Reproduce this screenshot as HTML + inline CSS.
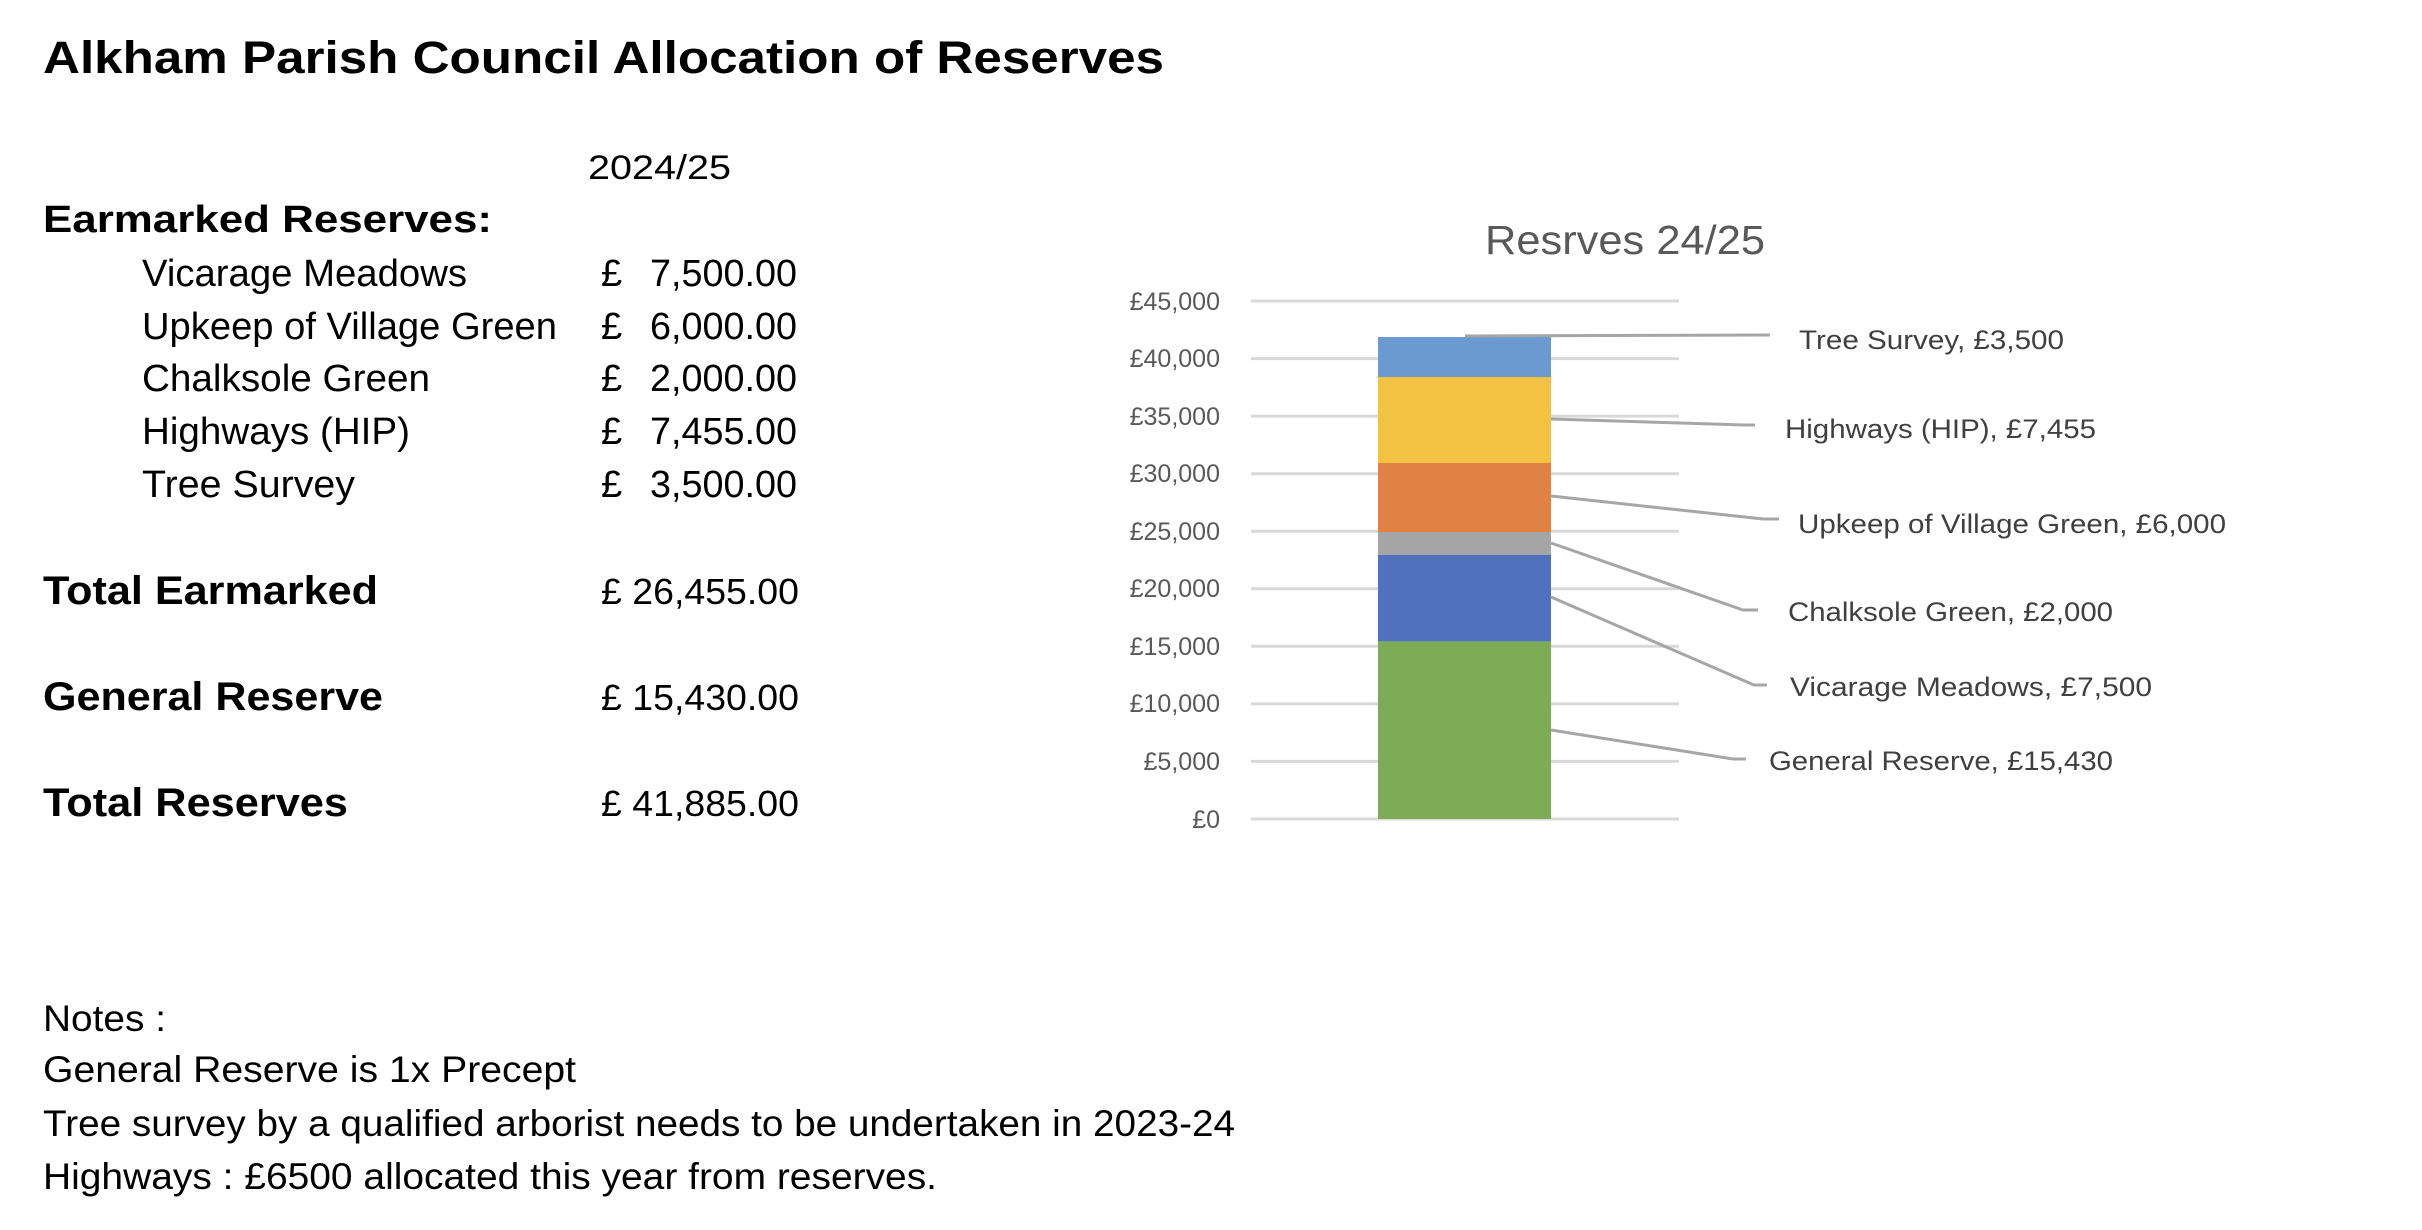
<!DOCTYPE html>
<html><head><meta charset="utf-8"><style>html,body{margin:0;padding:0;background:#fff}svg{display:block}</style></head>
<body>
<svg width="2422" height="1230" viewBox="0 0 2422 1230" xmlns="http://www.w3.org/2000/svg" font-family="Liberation Sans, sans-serif">
<rect width="2422" height="1230" fill="#fff"/>
<g fill="#000">
<text x="43" y="73" font-size="45" font-weight="bold" textLength="1121" lengthAdjust="spacingAndGlyphs">Alkham Parish Council Allocation of Reserves</text>
<text x="588" y="179" font-size="34" textLength="143" lengthAdjust="spacingAndGlyphs">2024/25</text>
<text x="43" y="232" font-size="38" font-weight="bold" textLength="449" lengthAdjust="spacingAndGlyphs">Earmarked Reserves:</text>
<g font-size="38">
<text x="142" y="286" textLength="325" lengthAdjust="spacingAndGlyphs">Vicarage Meadows</text>
<text x="142" y="339" textLength="415" lengthAdjust="spacingAndGlyphs">Upkeep of Village Green</text>
<text x="142" y="391" textLength="288" lengthAdjust="spacingAndGlyphs">Chalksole Green</text>
<text x="142" y="444" textLength="268" lengthAdjust="spacingAndGlyphs">Highways (HIP)</text>
<text x="142" y="497" textLength="213" lengthAdjust="spacingAndGlyphs">Tree Survey</text>
<text x="601" y="286">£</text><text x="650" y="286" textLength="147" lengthAdjust="spacingAndGlyphs">7,500.00</text>
<text x="601" y="339">£</text><text x="650" y="339" textLength="147" lengthAdjust="spacingAndGlyphs">6,000.00</text>
<text x="601" y="391">£</text><text x="650" y="391" textLength="147" lengthAdjust="spacingAndGlyphs">2,000.00</text>
<text x="601" y="444">£</text><text x="650" y="444" textLength="147" lengthAdjust="spacingAndGlyphs">7,455.00</text>
<text x="601" y="497">£</text><text x="650" y="497" textLength="147" lengthAdjust="spacingAndGlyphs">3,500.00</text>
</g>
<g font-size="40" font-weight="bold">
<text x="43" y="604" textLength="335" lengthAdjust="spacingAndGlyphs">Total Earmarked</text>
<text x="43" y="710" textLength="340" lengthAdjust="spacingAndGlyphs">General Reserve</text>
<text x="43" y="816" textLength="305" lengthAdjust="spacingAndGlyphs">Total Reserves</text>
</g>
<g font-size="36">
<text x="601" y="604" textLength="198" lengthAdjust="spacingAndGlyphs">£ 26,455.00</text>
<text x="601" y="710" textLength="198" lengthAdjust="spacingAndGlyphs">£ 15,430.00</text>
<text x="601" y="816" textLength="198" lengthAdjust="spacingAndGlyphs">£ 41,885.00</text>
</g>
<g font-size="37">
<text x="43" y="1031" textLength="123" lengthAdjust="spacingAndGlyphs">Notes :</text>
<text x="43" y="1082" textLength="533" lengthAdjust="spacingAndGlyphs">General Reserve is 1x Precept</text>
<text x="43" y="1136" textLength="1192" lengthAdjust="spacingAndGlyphs">Tree survey by a qualified arborist needs to be undertaken in 2023-24</text>
<text x="43" y="1189" textLength="894" lengthAdjust="spacingAndGlyphs">Highways : £6500 allocated this year from reserves.</text>
</g>
</g>
<!-- chart -->
<text x="1485" y="254" font-size="41" fill="#595959" textLength="280" lengthAdjust="spacingAndGlyphs">Resrves 24/25</text>
<g stroke="#d9d9d9" stroke-width="3">
<line x1="1251" y1="301" x2="1679" y2="301"/>
<line x1="1251" y1="358.6" x2="1679" y2="358.6"/>
<line x1="1251" y1="416.1" x2="1679" y2="416.1"/>
<line x1="1251" y1="473.7" x2="1679" y2="473.7"/>
<line x1="1251" y1="531.2" x2="1679" y2="531.2"/>
<line x1="1251" y1="588.8" x2="1679" y2="588.8"/>
<line x1="1251" y1="646.3" x2="1679" y2="646.3"/>
<line x1="1251" y1="703.9" x2="1679" y2="703.9"/>
<line x1="1251" y1="761.4" x2="1679" y2="761.4"/>
<line x1="1251" y1="819" x2="1679" y2="819"/>
</g>
<g font-size="25" fill="#595959" text-anchor="end">
<text x="1220" y="310">£45,000</text>
<text x="1220" y="367">£40,000</text>
<text x="1220" y="425">£35,000</text>
<text x="1220" y="482">£30,000</text>
<text x="1220" y="540">£25,000</text>
<text x="1220" y="597">£20,000</text>
<text x="1220" y="655">£15,000</text>
<text x="1220" y="712">£10,000</text>
<text x="1220" y="770">£5,000</text>
<text x="1220" y="828">£0</text>
</g>
<rect x="1378" y="641.4" width="173" height="177.6" fill="#7eab55"/>
<rect x="1378" y="555" width="173" height="86.4" fill="#4f71be"/>
<rect x="1378" y="532" width="173" height="23" fill="#a5a5a5"/>
<rect x="1378" y="463" width="173" height="69" fill="#df8244"/>
<rect x="1378" y="377" width="173" height="86" fill="#f4c242"/>
<rect x="1378" y="337" width="173" height="40" fill="#6a9ad0"/>
<g stroke="#a6a6a6" stroke-width="3" fill="none">
<polyline points="1465,336 1770,335"/>
<polyline points="1551,419 1745,425 1755,425"/>
<polyline points="1551,496 1763,519 1779,519"/>
<polyline points="1551,543 1743,610 1758,610"/>
<polyline points="1551,597 1754,685 1767,685"/>
<polyline points="1551,730 1733,759 1746,759"/>
</g>
<g font-size="27" fill="#404040">
<text x="1799" y="349" textLength="265" lengthAdjust="spacingAndGlyphs">Tree Survey, £3,500</text>
<text x="1785" y="438" textLength="311" lengthAdjust="spacingAndGlyphs">Highways (HIP), £7,455</text>
<text x="1798" y="533" textLength="428" lengthAdjust="spacingAndGlyphs">Upkeep of Village Green,  £6,000</text>
<text x="1788" y="621" textLength="325" lengthAdjust="spacingAndGlyphs">Chalksole Green,  £2,000</text>
<text x="1790" y="696" textLength="362" lengthAdjust="spacingAndGlyphs">Vicarage Meadows,  £7,500</text>
<text x="1769" y="770" textLength="344" lengthAdjust="spacingAndGlyphs">General Reserve,  £15,430</text>
</g>
</svg>
</body></html>
